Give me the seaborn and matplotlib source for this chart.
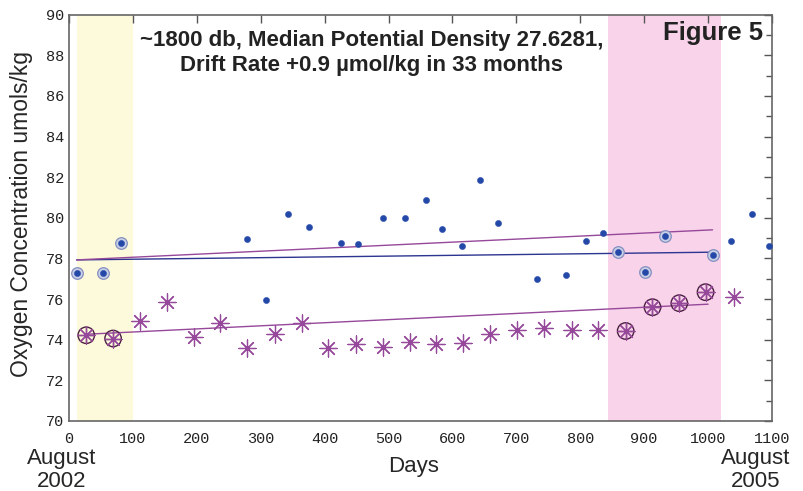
import numpy as np
import pandas as pd
import seaborn as sns
import matplotlib.pyplot as plt
from matplotlib.ticker import MultipleLocator

sns.set_style("white")
plt.rcParams['font.family'] = ['Liberation Sans', 'DejaVu Sans']

# blue series (upper), days and oxygen
blue_days = [12, 53, 81, 279, 308, 343, 375, 426, 452, 492, 525, 559, 583, 615,
             643, 671, 732, 777, 809, 836, 859, 902, 933, 1007, 1036, 1068, 1096]
blue_vals = [77.27, 77.27, 78.77, 78.95, 75.95, 80.21, 79.56, 78.77, 78.69, 79.98,
             79.98, 80.89, 79.44, 78.62, 81.84, 79.77, 76.98, 77.18, 78.87, 79.26,
             78.34, 77.32, 79.13, 78.18, 78.88, 80.18, 78.62]
blue_flag = [1, 1, 1, 0, 0, 0, 0, 0, 0, 0, 0, 0, 0, 0, 0, 0, 0, 0, 0, 0,
             1, 1, 1, 1, 0, 0, 0]

# purple series (lower)
purple_days = [27, 69, 111, 153, 195, 236, 279, 322, 364, 406, 449, 491, 533,
               575, 617, 659, 701, 743, 787, 828, 871, 913, 955, 996, 1040]
purple_vals = [74.22, 74.06, 74.94, 75.86, 74.12, 74.81, 73.58, 74.29, 74.81,
               73.60, 73.78, 73.66, 73.91, 73.78, 73.84, 74.29, 74.48, 74.60,
               74.48, 74.48, 74.43, 75.60, 75.80, 76.34, 76.09]
purple_flag = [1, 1, 0, 0, 0, 0, 0, 0, 0, 0, 0, 0, 0, 0, 0, 0, 0, 0, 0, 0,
               1, 1, 1, 1, 0]

# trend lines (end points)
blue_fit_days = [12, 1007]
blue_fit_vals = [77.93, 78.31]
upper_fit_days = [12, 1007]
upper_fit_vals = [77.93, 79.41]
lower_fit_days = [27, 1000]
lower_fit_vals = [74.27, 75.75]

# shaded periods
yellow_span = (12, 100)
pink_span = (843, 1020)

BLUE = '#2448a8'
PURPLE = '#96489a'
NAVY = '#2c3590'

blue = pd.DataFrame({'day': blue_days, 'o2': blue_vals, 'flag': blue_flag})
purple = pd.DataFrame({'day': purple_days, 'o2': purple_vals, 'flag': purple_flag})

fig = plt.figure(figsize=(8.04, 4.91), dpi=100)
ax = fig.add_axes([0.0858, 0.1426, 0.8744, 0.8274])

ax.axvspan(*yellow_span, color='#fdfadc', zorder=0, lw=0)
ax.axvspan(*pink_span, color='#f8d3ea', zorder=0, lw=0)

# trend lines
sns.lineplot(x=blue_fit_days, y=blue_fit_vals, color=NAVY, lw=1.0, ax=ax, zorder=2)
sns.lineplot(x=upper_fit_days, y=upper_fit_vals, color=PURPLE, lw=1.0, ax=ax, zorder=2)
sns.lineplot(x=lower_fit_days, y=lower_fit_vals, color=PURPLE, lw=1.0, ax=ax, zorder=2)

# rings round the flagged points
bf = blue[blue.flag == 1]
sns.scatterplot(data=bf, x='day', y='o2', s=70, color='#c9cfe6', edgecolor='#8590c0',
                linewidth=0.9, ax=ax, zorder=3)
pf = purple[purple.flag == 1]
sns.scatterplot(data=pf, x='day', y='o2', s=140, facecolor='none', edgecolor='#4a2040',
                linewidth=1.0, ax=ax, zorder=3)
sns.scatterplot(data=pf, x='day', y='o2', s=140, marker='+', color='#4a2040',
                linewidth=0.9, ax=ax, zorder=3)

# the points themselves
sns.scatterplot(data=blue, x='day', y='o2', s=20, color=BLUE, edgecolor=BLUE,
                linewidth=0.3, ax=ax, zorder=4)
sns.scatterplot(data=purple, x='day', y='o2', s=150, marker=(8, 2, 0), color=PURPLE,
                linewidth=0.9, ax=ax, zorder=4)

ax.set_xlim(0, 1100)
ax.set_ylim(70, 90)
ax.xaxis.set_major_locator(MultipleLocator(100))
ax.yaxis.set_major_locator(MultipleLocator(2))
ax.yaxis.set_minor_locator(MultipleLocator(1))
ax.tick_params(axis='both', which='both', direction='in', colors='#555555',
               labelcolor='#222222', top=True, right=True, labelright=False, labeltop=False)
ax.tick_params(axis='both', which='major', length=6, width=1)
ax.tick_params(axis='y', which='minor', length=4, width=1)
ax.tick_params(axis='x', pad=8)
for lab in ax.get_xticklabels() + ax.get_yticklabels():
    lab.set_family(['Liberation Mono', 'DejaVu Sans Mono'])
    lab.set_fontsize(11)
for sp in ax.spines.values():
    sp.set_color('#666666')
    sp.set_linewidth(1.2)

ax.set_xlabel('Days', fontsize=16)
ax.set_ylabel('Oxygen Concentration umols/kg', fontsize=16.5)
ax.xaxis.set_label_coords(0.49, -0.085)
ax.yaxis.set_label_coords(-0.051, 0.51)

ax.text(0.430, 0.962, '~1800 db, Median Potential Density 27.6281,\nDrift Rate +0.9 \u00b5mol/kg in 33 months',
        transform=ax.transAxes, ha='center', va='top', fontsize=16, fontweight='bold',
        color='#222222', linespacing=1.25)
ax.text(0.987, 0.985, 'Figure 5', transform=ax.transAxes, ha='right', va='top',
        fontsize=18.5, fontweight='bold', color='#222222')

# dates under the axis ends
for xc, yr in [(62, '2002'), (756, '2005')]:
    fig.text(xc / 804, 1 - 464 / 491, 'August', ha='center', va='baseline', fontsize=16)
    fig.text(xc / 804, 1 - 487 / 491, yr, ha='center', va='baseline', fontsize=16)

fig.savefig('out.png', dpi=100)
